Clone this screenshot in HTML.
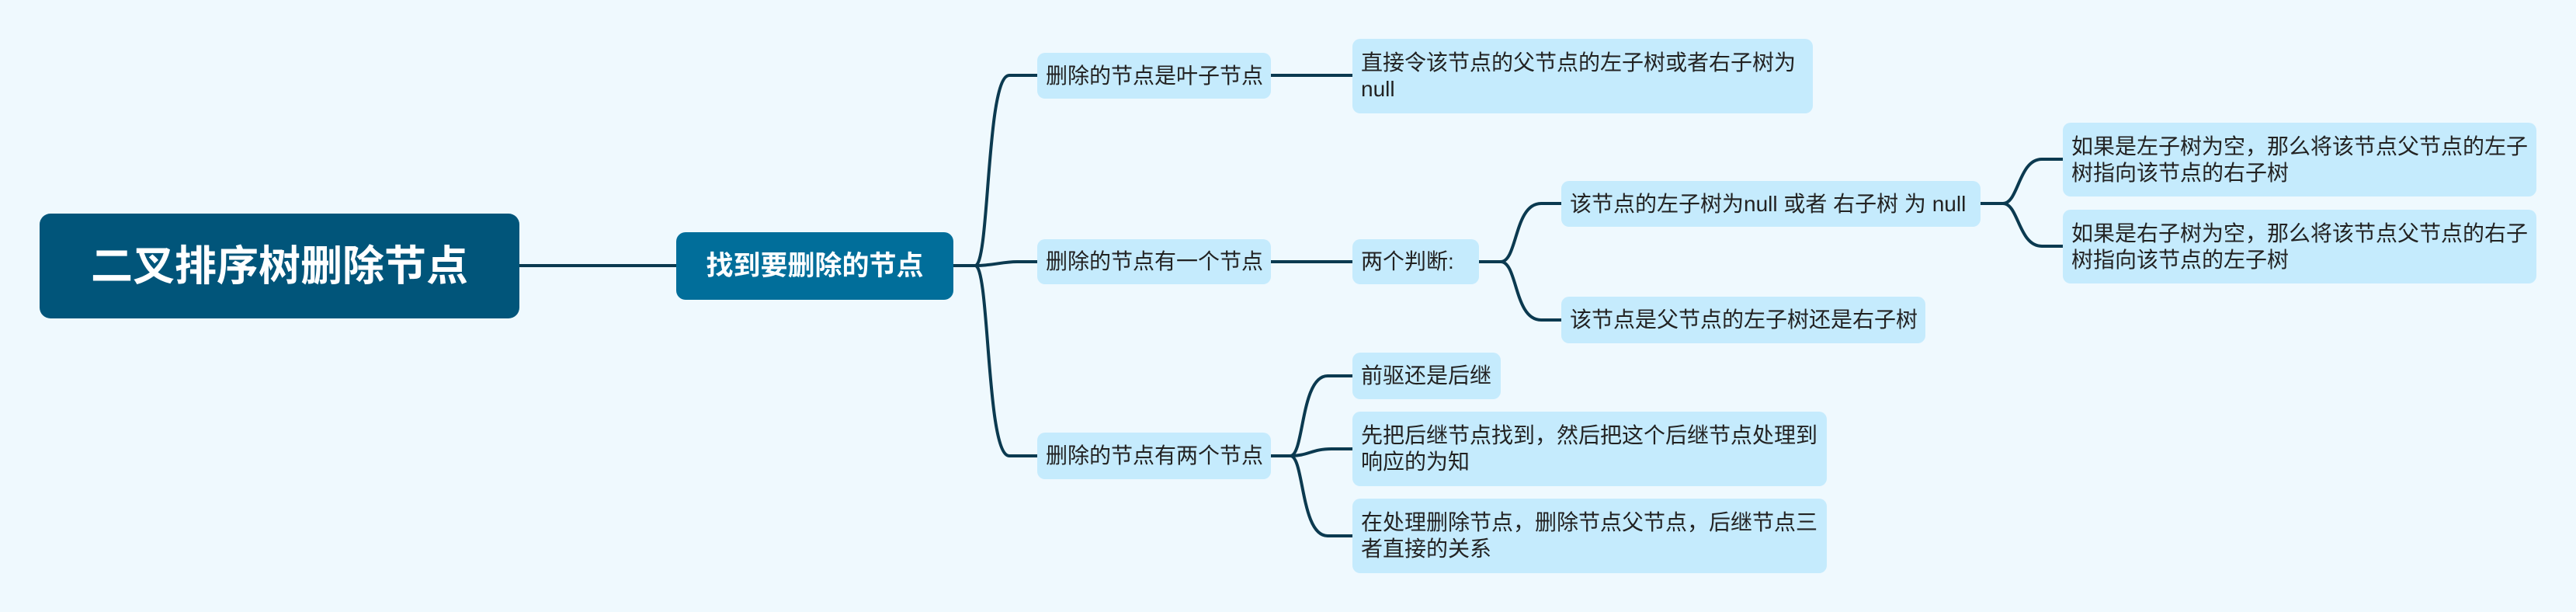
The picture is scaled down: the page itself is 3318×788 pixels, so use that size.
<!DOCTYPE html>
<html><head><meta charset="utf-8"><style>
body{margin:0;width:3318px;height:788px;background:#EFF9FE;position:relative;overflow:hidden;font-family:"Liberation Sans","Noto Sans CJK SC",sans-serif}
.n{position:absolute;box-sizing:border-box;display:flex;align-items:center;border-radius:10px;background:#C5EBFD;color:#222;font-size:28px;line-height:34px;padding-left:11px;white-space:nowrap}
.root{background:#01557A;color:#fff;font-weight:bold;font-size:54px;justify-content:center;padding:0;border-radius:14px}
.main{background:#016E9A;color:#fff;font-weight:bold;font-size:35px;justify-content:center;padding:0;border-radius:12px}
svg{position:absolute;left:0;top:0}
</style></head><body>
<svg width="3318" height="788"><g fill="none" stroke="#0B3A50" stroke-width="4" stroke-linecap="round">
<path d="M669 342 L871 342"/>
<path d="M1228 342 L1256 342"/>
<path d="M1256 342 C1275 342 1270 97 1300 97 L1336 97"/>
<path d="M1256 342 C1280 342 1290 337 1310 337 L1336 337"/>
<path d="M1256 342 C1275 342 1270 587 1300 587 L1336 587"/>
<path d="M1637 97 L1742 97"/>
<path d="M1637 337 L1742 337"/>
<path d="M1637 587 L1662 587"/>
<path d="M1662 587 C1680 587 1675 484 1710 484 L1742 484"/>
<path d="M1662 587 C1685 587 1690 578 1715 578 L1742 578"/>
<path d="M1662 587 C1680 587 1675 690 1710 690 L1742 690"/>
<path d="M1905 337 L1933 337"/>
<path d="M1933 337 C1955 337 1950 262 1985 262 L2011 262"/>
<path d="M1933 337 C1955 337 1950 412 1985 412 L2011 412"/>
<path d="M2551 262 L2580 262"/>
<path d="M2580 262 C2600 262 2600 205 2630 205 L2657 205"/>
<path d="M2580 262 C2600 262 2600 317 2630 317 L2657 317"/>
</g></svg>
<div class="n root" style="left:51px;top:275px;width:618px;height:135px">二叉排序树删除节点</div>
<div class="n main" style="left:871px;top:299px;width:357px;height:87px">找到要删除的节点</div>
<div class="n" style="left:1336px;top:68px;width:301px;height:59px">删除的节点是叶子节点</div>
<div class="n" style="left:1336px;top:308px;width:301px;height:58px">删除的节点有一个节点</div>
<div class="n" style="left:1336px;top:557px;width:301px;height:60px">删除的节点有两个节点</div>
<div class="n" style="left:1742px;top:50px;width:593px;height:96px;white-space:normal">直接令该节点的父节点的左子树或者右子树为<br>null</div>
<div class="n" style="left:1742px;top:308px;width:163px;height:58px">两个判断:</div>
<div class="n" style="left:2011px;top:233px;width:540px;height:59px">该节点的左子树为null 或者 右子树 为 null</div>
<div class="n" style="left:2011px;top:382px;width:469px;height:60px">该节点是父节点的左子树还是右子树</div>
<div class="n" style="left:2657px;top:158px;width:610px;height:95px">如果是左子树为空，那么将该节点父节点的左子<br>树指向该节点的右子树</div>
<div class="n" style="left:2657px;top:270px;width:610px;height:95px">如果是右子树为空，那么将该节点父节点的右子<br>树指向该节点的左子树</div>
<div class="n" style="left:1742px;top:454px;width:191px;height:60px">前驱还是后继</div>
<div class="n" style="left:1742px;top:530px;width:611px;height:96px">先把后继节点找到，然后把这个后继节点处理到<br>响应的为知</div>
<div class="n" style="left:1742px;top:642px;width:611px;height:96px">在处理删除节点，删除节点父节点，后继节点三<br>者直接的关系</div>
</body></html>
